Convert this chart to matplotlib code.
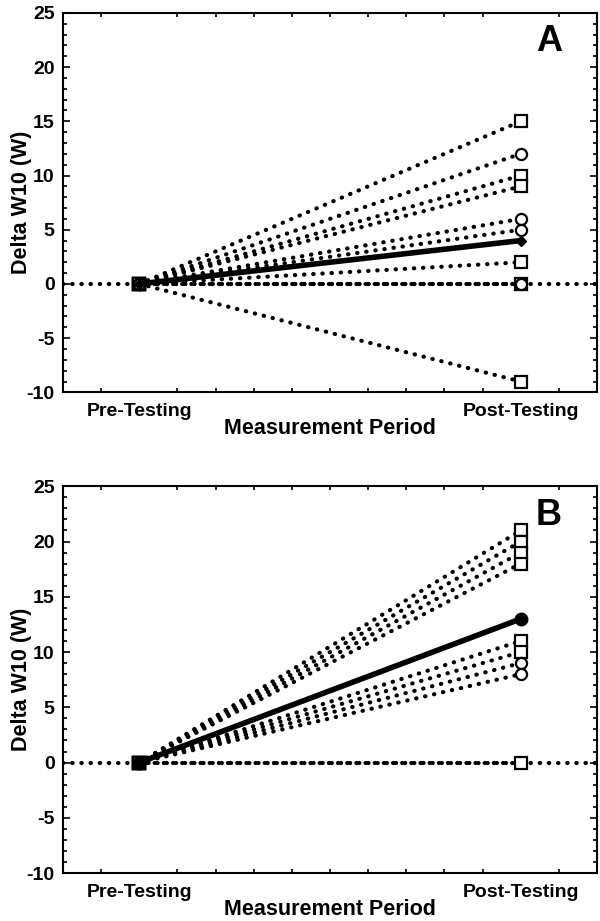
import matplotlib.pyplot as plt
from matplotlib.ticker import MultipleLocator

plt.rcParams['font.family'] = ['Liberation Sans', 'DejaVu Sans']
plt.rcParams['font.weight'] = 'bold'
plt.rcParams['axes.unicode_minus'] = False

periods = ['Pre-Testing', 'Post-Testing']

# Panel A: change at post-testing for each subject (pre is always 0)
a_squares = [15, 10, 9, 2, 0, -9]
a_circles = [12, 6, 5, 0]
a_mean = 4

# Panel B
b_squares = [21, 20, 19, 18, 11, 10, 0]
b_circles = [9, 8]
b_mean = 13

dot = dict(linestyle=(0, (0.1, 2.1)), dash_capstyle='round', linewidth=3.0, color='black')


def panel(ax, squares, circles, mean, mean_marker, mean_ms, letter):
    ax.plot([0.8, 2.2], [0, 0], zorder=1, **dot)
    for v in squares:
        ax.plot([1, 2], [0, v], marker='s', markersize=8, markerfacecolor='white',
                markeredgecolor='black', markeredgewidth=1.6, zorder=2, **dot)
    for v in circles:
        ax.plot([1, 2], [0, v], marker='o', markersize=8, markerfacecolor='white',
                markeredgecolor='black', markeredgewidth=1.6, zorder=2, **dot)
    ax.plot([1, 2], [0, mean], color='black', linewidth=4, marker=mean_marker,
            markersize=mean_ms, markerfacecolor='black', markeredgecolor='black', zorder=3)
    ax.set_xlim(0.8, 2.2)
    ax.set_ylim(-10, 25)
    ax.set_xticks([1, 2])
    ax.set_xticklabels(periods)
    ax.xaxis.set_minor_locator(MultipleLocator(0.1))
    ax.set_yticks(range(-10, 26, 5))
    ax.yaxis.set_minor_locator(MultipleLocator(1))
    ax.tick_params(which='both', direction='in', top=True, right=True, labelsize=14, width=1.2)
    ax.tick_params(which='major', length=5)
    ax.tick_params(which='minor', length=3)
    ax.tick_params(axis='y', which='major', pad=6)
    ax.tick_params(axis='x', which='major', length=0, pad=8)
    for s in ax.spines.values():
        s.set_linewidth(1.5)
    for lab in ax.get_xticklabels() + ax.get_yticklabels():
        lab.set_fontweight('bold')
    ax.set_xlabel('Measurement Period', fontsize=15.5, fontweight='bold', va='center')
    ax.xaxis.set_label_coords(0.5, -0.095)
    ax.set_ylabel('Delta W10 (W)', fontsize=15.5, fontweight='bold', va='center')
    ax.yaxis.set_label_coords(-0.078, 0.5)
    ax.text(0.91, 0.925, letter, transform=ax.transAxes, fontsize=26, fontweight='bold',
            ha='center', va='center')


fig = plt.figure(figsize=(6, 9.21), dpi=100)
ax1 = fig.add_axes([0.105, 0.574, 0.89, 0.412])
ax2 = fig.add_axes([0.105, 0.052, 0.89, 0.42])

panel(ax1, a_squares, a_circles, a_mean, 'D', 5, 'A')
panel(ax2, b_squares, b_circles, b_mean, 'o', 9, 'B')

fig.savefig('out.png', dpi=100)
